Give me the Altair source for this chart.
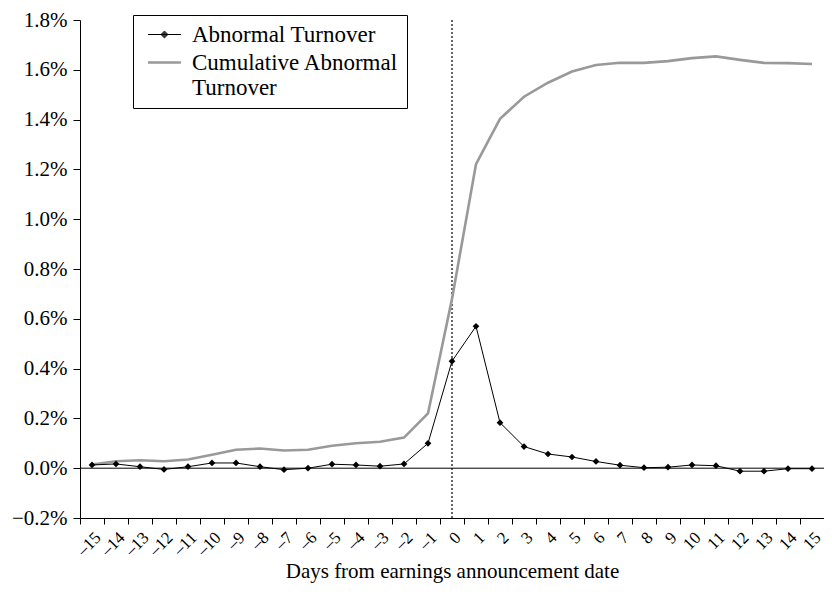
import altair as alt
import pandas as pd

days = list(range(-15, 16))
abnormal_pct = [0.013, 0.017, 0.006, -0.005, 0.006, 0.021, 0.021, 0.006, -0.006, 0.0,
                0.016, 0.013, 0.008, 0.017, 0.10, 0.43, 0.57, 0.183, 0.087, 0.057,
                0.045, 0.027, 0.012, 0.002, 0.004, 0.013, 0.010, -0.012, -0.012, -0.002, -0.002]
cumulative_pct = [0.015, 0.028, 0.032, 0.028, 0.035, 0.054, 0.074, 0.079, 0.071, 0.074,
                  0.090, 0.100, 0.106, 0.123, 0.22, 0.68, 1.221, 1.403, 1.492, 1.548,
                  1.593, 1.619, 1.628, 1.628, 1.635, 1.647, 1.654, 1.640, 1.628, 1.627, 1.623]
series_names = ["Abnormal Turnover", "Cumulative Abnormal Turnover"]
y_ticks = [-0.002, 0.0, 0.002, 0.004, 0.006, 0.008, 0.010, 0.012, 0.014, 0.016, 0.018]

FONT = "Liberation Serif"

ab = pd.DataFrame({"day": days, "value": [v / 100 for v in abnormal_pct], "series": series_names[0]})
cu = pd.DataFrame({"day": days, "value": [v / 100 for v in cumulative_pct], "series": series_names[1]})
both = pd.concat([ab, cu], ignore_index=True)

x_enc = alt.X(
    "day:O",
    scale=alt.Scale(type="band", paddingInner=0, paddingOuter=0),
    axis=alt.Axis(
        title="Days from earnings announcement date",
        tickBand="extent",
        labelAngle=315,
        labelExpr="replace(datum.label, '-', '–')",
        labelFont=FONT, titleFont=FONT,
        labelFontSize=17,
        titleFontSize=21,
        titlePadding=2,
        tickSize=6, labelPadding=5,
    ),
)
y_enc = alt.Y(
    "value:Q",
    scale=alt.Scale(domain=[-0.002, 0.018], nice=False, zero=False),
    axis=alt.Axis(
        title=None, values=y_ticks, format=".1%",
        labelFont=FONT,
        labelFontSize=21, tickSize=7, labelPadding=6,
    ),
)

cum_line = alt.Chart(cu).mark_line(color="#999999", strokeWidth=2.6).encode(x=x_enc, y=y_enc)
ab_line = alt.Chart(ab).mark_line(color="black", strokeWidth=1).encode(x=x_enc, y=y_enc)
ab_pts = alt.Chart(ab).mark_point(shape="diamond", filled=True, color="black", size=45, opacity=1).encode(x=x_enc, y=y_enc)

zero_rule = alt.Chart(pd.DataFrame({"value": [0.0]})).mark_rule(color="black", strokeWidth=1).encode(y=y_enc)
event_rule = alt.Chart(pd.DataFrame({"day": [0]})).mark_rule(color="black", strokeWidth=1.2, strokeDash=[2, 2]).encode(x=x_enc)

# legend symbols: unit-scaled SVG paths, shifted right so the label sits after them
SH = 1.45
diamond = ""
for r in [0.42, 0.30, 0.18, 0.07]:
    diamond += f"M{SH - r:.2f},0L{SH},{-r}L{SH + r:.2f},0L{SH},{r}Z"
sym_ab = f"M{SH - 2:.2f},0H{SH + 2:.2f}" + diamond
sym_cu = f"M{SH - 2:.2f},0H{SH + 2:.2f}"

leg = alt.Legend(
    title=None, orient="none", legendX=53, legendY=-5,
    strokeColor="black", fillColor="white", padding=8,
    labelFont=FONT, labelFontSize=23, labelColor="black", labelLimit=400,
    symbolSize=272, labelOffset=28, rowPadding=4,
    labelExpr="datum.label == 'Cumulative Abnormal Turnover' ? ['Cumulative Abnormal', 'Turnover'] : datum.label",
)
legend_layer = alt.Chart(both).transform_filter("false").mark_point(filled=False, opacity=1).encode(
    x=x_enc, y=y_enc,
    color=alt.Color("series:N", scale=alt.Scale(domain=series_names, range=["black", "#999999"]), legend=leg),
    shape=alt.Shape("series:N", scale=alt.Scale(domain=series_names, range=[sym_ab, sym_cu]), legend=leg),
    strokeWidth=alt.StrokeWidth("series:N", scale=alt.Scale(domain=series_names, range=[1, 2.6]), legend=leg),
)

chart = alt.layer(zero_rule, event_rule, cum_line, ab_line, ab_pts, legend_layer).properties(
    width=744, height=498,
    autosize=alt.AutoSizeParams(type="none"),
    padding={"left": 72, "top": 12, "right": 0, "bottom": 70},
).configure(background="white", font=FONT).configure_view(stroke=None).configure_axis(
    labelFont=FONT, titleFont=FONT, labelColor="black", titleColor="black",
    titleFontWeight="normal", domainColor="black", tickColor="black", grid=False,
)

chart.save("out.html", embed_options={"renderer": "svg", "actions": False})
